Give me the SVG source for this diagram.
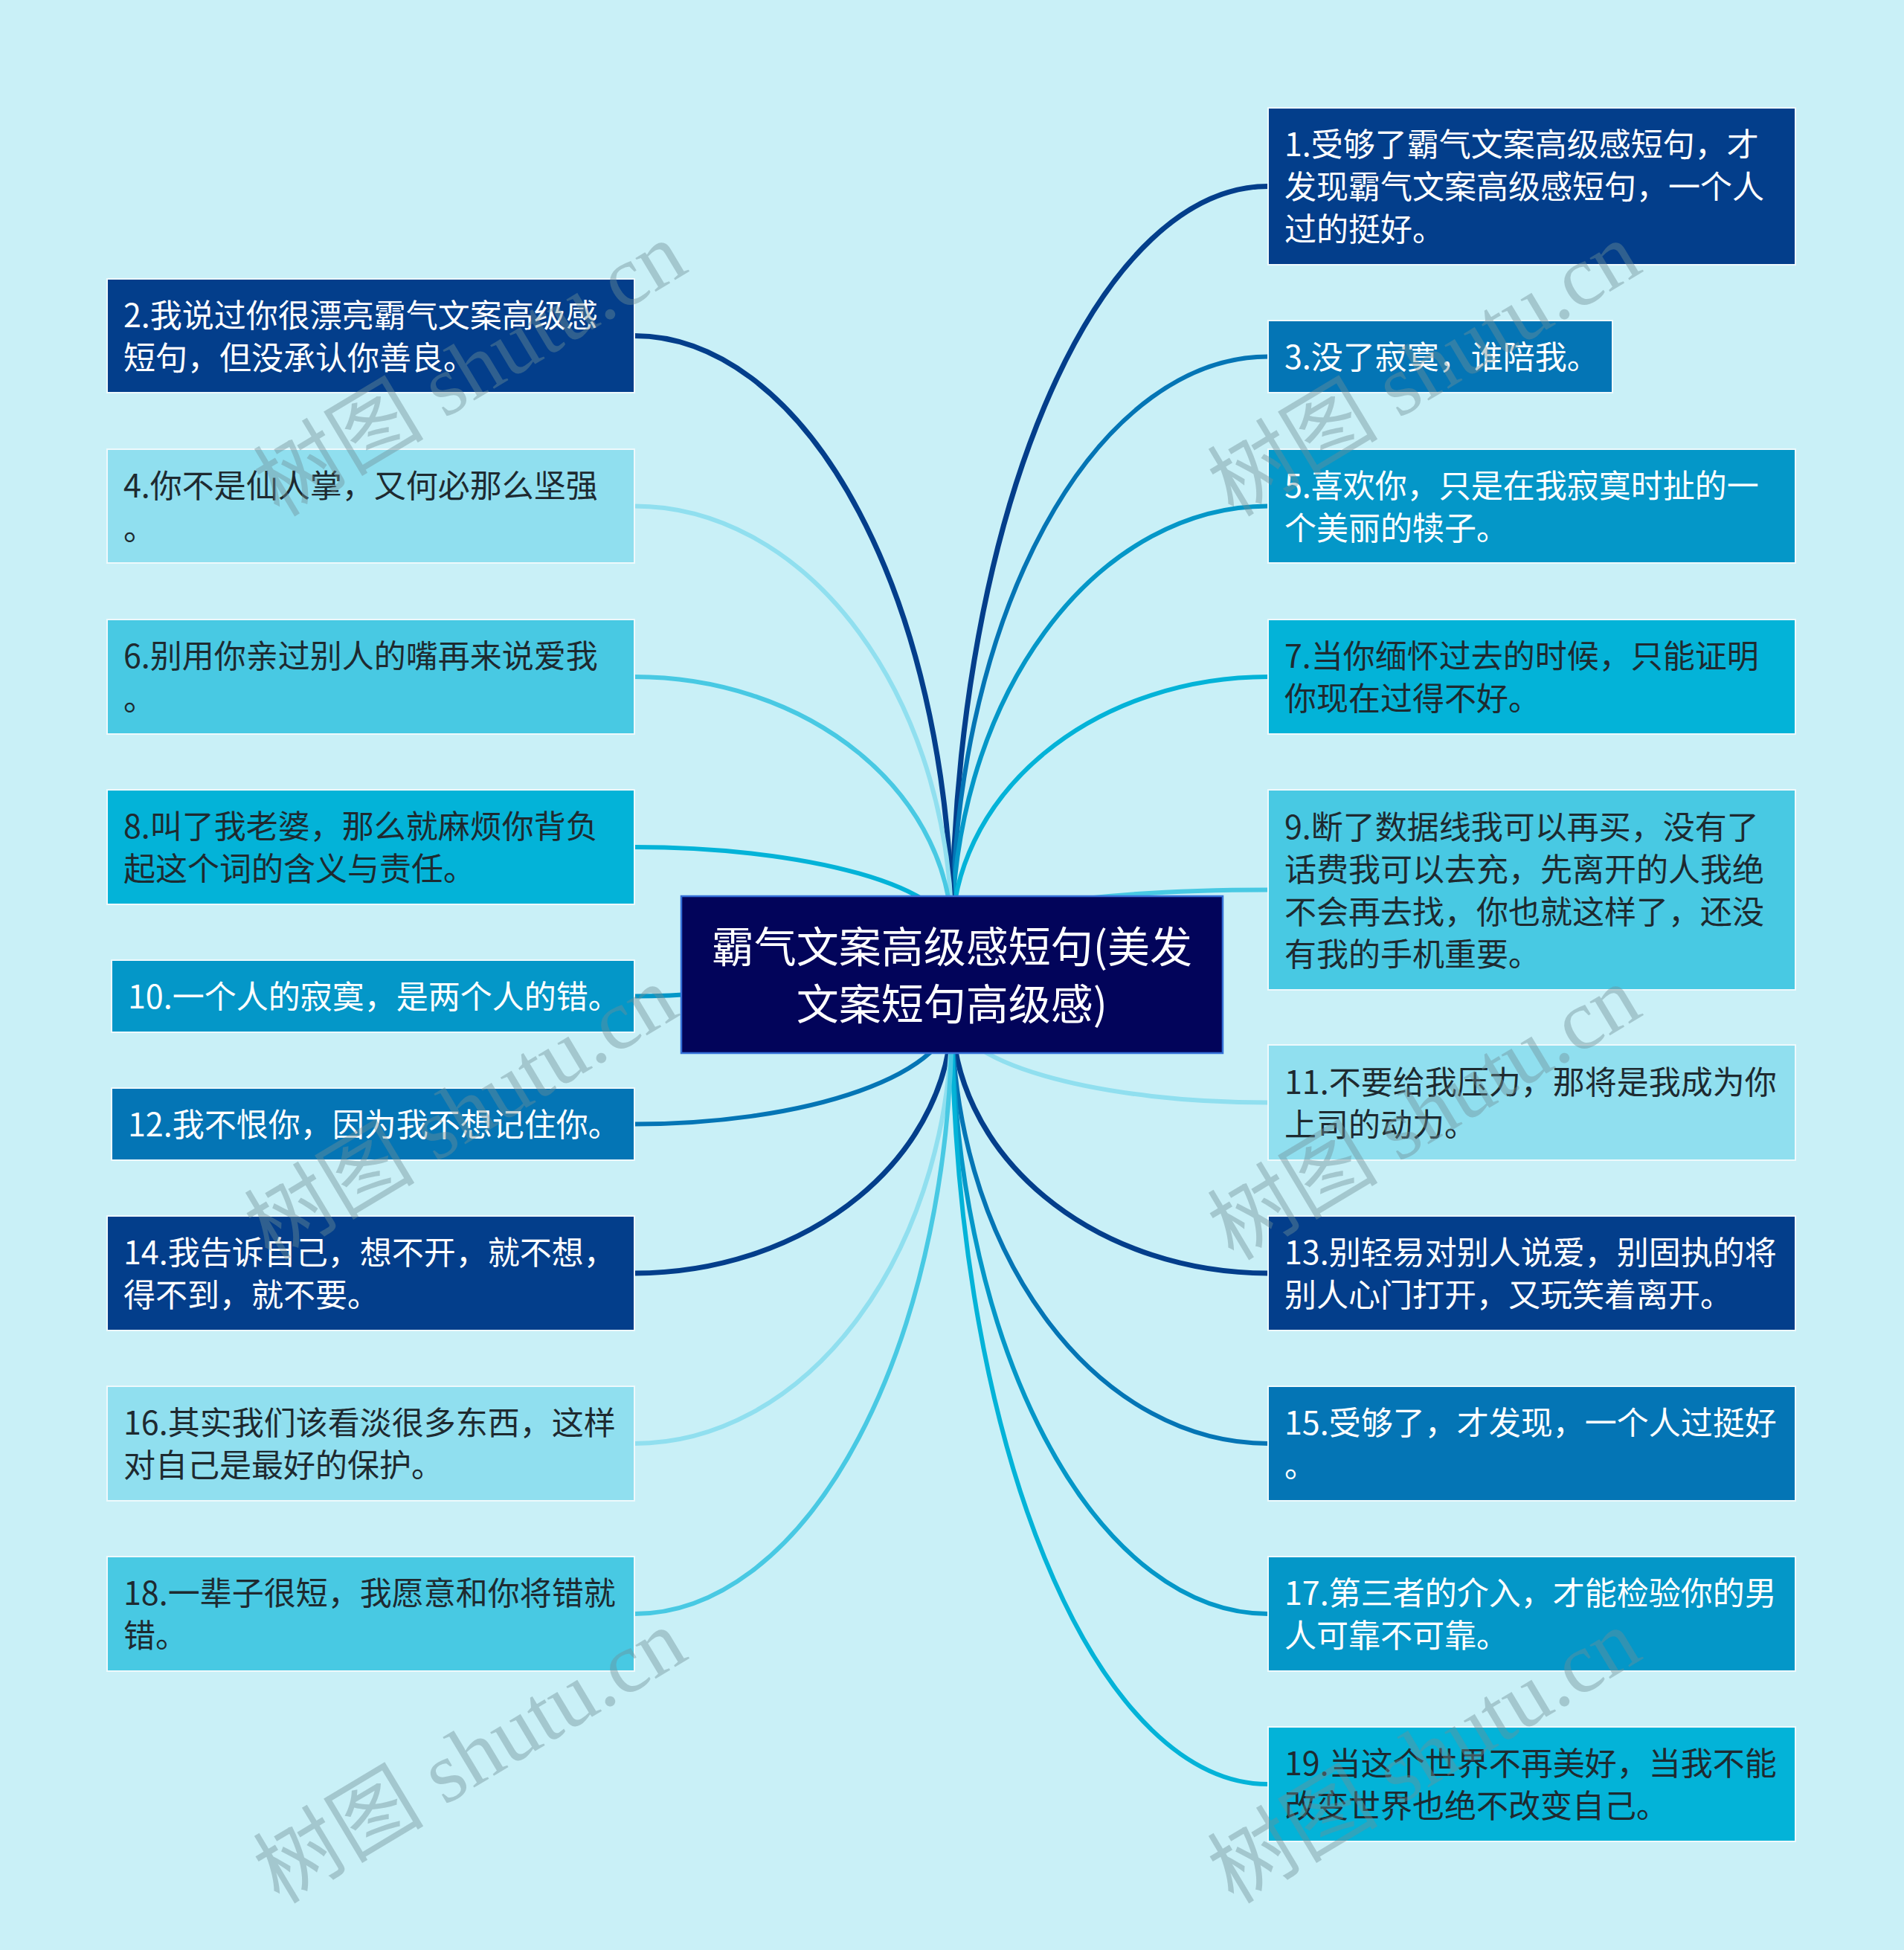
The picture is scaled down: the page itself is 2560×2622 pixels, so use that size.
<svg xmlns="http://www.w3.org/2000/svg" width="2560" height="2622" viewBox="0 0 2560 2622">
<style>
.c{fill:none;stroke-width:6;stroke-linecap:round}
.n{stroke:#eef9fc;stroke-width:2}
.t{font-family:"Noto Sans CJK SC","Noto Sans",sans-serif;font-size:43px}
.w{fill:#ffffff}
.d{fill:#1e2a30}
.k1{fill:#033e8b}.s1{stroke:#033e8b}
.k2{fill:#0475b5}.s2{stroke:#0475b5}
.k3{fill:#0497c8}.s3{stroke:#0497c8}
.k4{fill:#03b3d8}.s4{stroke:#03b3d8}
.k5{fill:#48c9e3}.s5{stroke:#48c9e3}
.k6{fill:#90dfef}.s6{stroke:#90dfef}
.wm{font-family:"Liberation Serif","Noto Sans CJK SC",serif;font-size:115px;fill:#6f8f96;fill-opacity:0.42}
</style>
<rect x="0" y="0" width="2560" height="2622" fill="#c9f0f7"/>
<g id="connectors">
<path class="c s1" style="stroke-width:7" d="M1280 1260 A425 1009.5 0 0 1 1705 250.5"/>
<path class="c s2" d="M1280 1260 A425 780.5 0 0 1 1705 479.5"/>
<path class="c s3" d="M1280 1260 A425 579.5 0 0 1 1705 680.5"/>
<path class="c s4" d="M1280 1260 A425 350 0 0 1 1705 910"/>
<path class="c s5" d="M1280 1260 A425 63.5 0 0 1 1705 1196.5"/>
<path class="c s1" style="stroke-width:7" d="M1280 1260 A427 808.5 0 0 0 853 451.5"/>
<path class="c s6" d="M1280 1260 A427 579.5 0 0 0 853 680.5"/>
<path class="c s5" d="M1280 1260 A427 350 0 0 0 853 910"/>
<path class="c s4" d="M1280 1260 A427 121 0 0 0 853 1139"/>
<path class="c s3" d="M1280 1310 C1100 1310 1000 1339.5 853 1339.5"/>
<path class="c s6" d="M1280 1360 A425 122.5 0 0 0 1705 1482.5"/>
<path class="c s1" style="stroke-width:7" d="M1280 1360 A425 352 0 0 0 1705 1712"/>
<path class="c s2" d="M1280 1360 A425 581 0 0 0 1705 1941"/>
<path class="c s3" d="M1280 1360 A425 810 0 0 0 1705 2170"/>
<path class="c s4" d="M1280 1360 A425 1039 0 0 0 1705 2399"/>
<path class="c s2" d="M1280 1360 A427 151.5 0 0 1 853 1511.5"/>
<path class="c s1" style="stroke-width:7" d="M1280 1360 A427 352 0 0 1 853 1712"/>
<path class="c s6" d="M1280 1360 A427 581 0 0 1 853 1941"/>
<path class="c s5" d="M1280 1360 A427 810 0 0 1 853 2170"/>
</g>
<g id="center">
<rect x="916" y="1205" width="728" height="211" fill="#02045a" stroke="#3570d8" stroke-width="2.5"/>
<text class="t w" style="font-size:57px" text-anchor="middle"><tspan x="1280" y="1294">霸气文案高级感短句(美发</tspan><tspan x="1280" y="1371">文案短句高级感)</tspan></text>
</g>
<g id="n1"><rect class="n k1" x="1705" y="145" width="709" height="211"/><text class="t w"><tspan x="1727" y="210">1.受够了霸气文案高级感短句，才</tspan><tspan x="1727" y="267">发现霸气文案高级感短句，一个人</tspan><tspan x="1727" y="324">过的挺好。</tspan></text></g>
<g id="n3"><rect class="n k2" x="1705" y="431" width="463" height="97"/><text class="t w"><tspan x="1727" y="496">3.没了寂寞，谁陪我。</tspan></text></g>
<g id="n5"><rect class="n k3" x="1705" y="604" width="709" height="153"/><text class="t w"><tspan x="1727" y="669">5.喜欢你，只是在我寂寞时扯的一</tspan><tspan x="1727" y="726">个美丽的犊子。</tspan></text></g>
<g id="n7"><rect class="n k4" x="1705" y="833" width="709" height="154"/><text class="t d"><tspan x="1727" y="898">7.当你缅怀过去的时候，只能证明</tspan><tspan x="1727" y="955">你现在过得不好。</tspan></text></g>
<g id="n9"><rect class="n k5" x="1705" y="1062" width="709" height="269"/><text class="t d"><tspan x="1727" y="1128">9.断了数据线我可以再买，没有了</tspan><tspan x="1727" y="1185">话费我可以去充，先离开的人我绝</tspan><tspan x="1727" y="1242">不会再去找，你也就这样了，还没</tspan><tspan x="1727" y="1299">有我的手机重要。</tspan></text></g>
<g id="n11"><rect class="n k6" x="1705" y="1405" width="709" height="155"/><text class="t d"><tspan x="1727" y="1471">11.不要给我压力，那将是我成为你</tspan><tspan x="1727" y="1528">上司的动力。</tspan></text></g>
<g id="n13"><rect class="n k1" x="1705" y="1635" width="709" height="154"/><text class="t w"><tspan x="1727" y="1700">13.别轻易对别人说爱，别固执的将</tspan><tspan x="1727" y="1757">别人心门打开，又玩笑着离开。</tspan></text></g>
<g id="n15"><rect class="n k2" x="1705" y="1864" width="709" height="154"/><text class="t w"><tspan x="1727" y="1929">15.受够了，才发现，一个人过挺好</tspan><tspan x="1727" y="1986">。</tspan></text></g>
<g id="n17"><rect class="n k3" x="1705" y="2093" width="709" height="154"/><text class="t w"><tspan x="1727" y="2158">17.第三者的介入，才能检验你的男</tspan><tspan x="1727" y="2215">人可靠不可靠。</tspan></text></g>
<g id="n19"><rect class="n k4" x="1705" y="2322" width="709" height="154"/><text class="t d"><tspan x="1727" y="2387">19.当这个世界不再美好，当我不能</tspan><tspan x="1727" y="2444">改变世界也绝不改变自己。</tspan></text></g>
<g id="n2"><rect class="n k1" x="144" y="375" width="709" height="153"/><text class="t w"><tspan x="166" y="440">2.我说过你很漂亮霸气文案高级感</tspan><tspan x="166" y="497">短句，但没承认你善良。</tspan></text></g>
<g id="n4"><rect class="n k6" x="144" y="604" width="709" height="153"/><text class="t d"><tspan x="166" y="669">4.你不是仙人掌，又何必那么坚强</tspan><tspan x="166" y="726">。</tspan></text></g>
<g id="n6"><rect class="n k5" x="144" y="833" width="709" height="154"/><text class="t d"><tspan x="166" y="898">6.别用你亲过别人的嘴再来说爱我</tspan><tspan x="166" y="955">。</tspan></text></g>
<g id="n8"><rect class="n k4" x="144" y="1062" width="709" height="154"/><text class="t d"><tspan x="166" y="1127">8.叫了我老婆，那么就麻烦你背负</tspan><tspan x="166" y="1184">起这个词的含义与责任。</tspan></text></g>
<g id="n10"><rect class="n k3" x="150" y="1291" width="703" height="97"/><text class="t w"><tspan x="172" y="1356">10.一个人的寂寞，是两个人的错。</tspan></text></g>
<g id="n12"><rect class="n k2" x="150" y="1463" width="703" height="97"/><text class="t w"><tspan x="172" y="1528">12.我不恨你，因为我不想记住你。</tspan></text></g>
<g id="n14"><rect class="n k1" x="144" y="1635" width="709" height="154"/><text class="t w"><tspan x="166" y="1700">14.我告诉自己，想不开，就不想，</tspan><tspan x="166" y="1757">得不到，就不要。</tspan></text></g>
<g id="n16"><rect class="n k6" x="144" y="1864" width="709" height="154"/><text class="t d"><tspan x="166" y="1929">16.其实我们该看淡很多东西，这样</tspan><tspan x="166" y="1986">对自己是最好的保护。</tspan></text></g>
<g id="n18"><rect class="n k5" x="144" y="2093" width="709" height="154"/><text class="t d"><tspan x="166" y="2158">18.一辈子很短，我愿意和你将错就</tspan><tspan x="166" y="2215">错。</tspan></text></g>
<g id="watermarks">
<text class="wm" text-anchor="middle" transform="translate(652 530) rotate(-31)">树图 shutu.cn</text>
<text class="wm" text-anchor="middle" transform="translate(1935 530) rotate(-31)">树图 shutu.cn</text>
<text class="wm" text-anchor="middle" transform="translate(640 1530) rotate(-31)">树图 shutu.cn</text>
<text class="wm" text-anchor="middle" transform="translate(1935 1530) rotate(-31)">树图 shutu.cn</text>
<text class="wm" text-anchor="middle" transform="translate(652 2395) rotate(-31)">树图 shutu.cn</text>
<text class="wm" text-anchor="middle" transform="translate(1935 2395) rotate(-31)">树图 shutu.cn</text>
</g>
</svg>
